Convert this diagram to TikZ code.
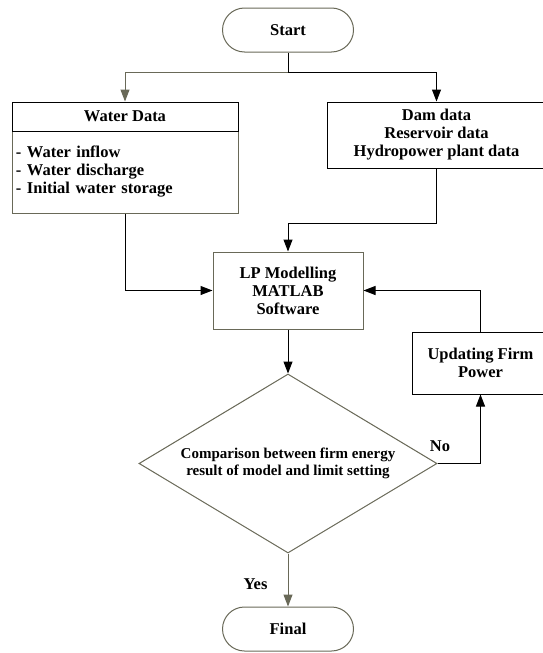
\documentclass[tikz,border=0pt]{standalone}
\usepackage{fontspec}
\setmainfont{Liberation Serif}
\usetikzlibrary{shapes.geometric,arrows.meta}
\definecolor{og}{RGB}{105,105,88}
\begin{document}
\begin{tikzpicture}[x=1pt,y=-1pt,
  every node/.style={font=\bfseries\fontsize{16.5}{18}\selectfont, align=center, line width=1pt},
  termbox/.style={draw=og, rounded corners=22pt, minimum width=131pt, minimum height=44pt, inner sep=0pt},
  blk/.style={draw=black, inner sep=0pt},
  gry/.style={draw=og, inner sep=0pt},
  conn/.style={line width=1pt, -{Triangle[length=12pt,width=9pt]}},
]
\useasboundingbox (0,0) rectangle (543,653);
\fill[white] (0,0) rectangle (543,653);

% nodes
\node[termbox] (start) at (288,30) {Start};
\node[gry, minimum width=226pt, minimum height=82pt, text width=218pt, align=left, inner xsep=4pt] (wb) at (125,172) {- Water inflow\\- Water discharge\\- Initial water storage};
\node[blk, minimum width=226pt, minimum height=29pt] (wh) at (125,116.5) {Water Data};
\node[blk, minimum width=219pt, minimum height=66pt] (dam) at (436.5,135) {Dam data\\Reservoir data\\Hydropower plant data};
\node[gry, minimum width=150pt, minimum height=77pt] (lp) at (288,290.5) {LP Modelling\\MATLAB\\Software};
\node[blk, minimum width=137pt, minimum height=62pt] (upd) at (480.5,363) {Updating Firm\\Power};
\node[diamond, draw=og, aspect=1.665, minimum width=298pt, minimum height=179pt, inner sep=0pt,
      font=\bfseries\fontsize{15}{16.5}\selectfont] (dia) at (288,463.5)
      {Comparison between firm energy\\result of model and limit setting};
\node[termbox] (final) at (288,629) {Final};
\node (no) at (440,446) {No};
\node (yes) at (255.5,584) {Yes};

% connectors
\coordinate (split) at (288,72.5);
\coordinate (dj) at (288,223);
\draw[line width=1pt] (start.south) -- (split);
\draw[conn, og] (split) -| (wh.north);
\draw[conn] (split) -| (dam.north);
\draw[conn] (wb.south) |- (lp.west);
\draw[conn] (dam.south) |- (dj) -- (lp.north);
\draw[conn] (lp.south) -- (dia.north);
\draw[conn] (dia.east) -| (upd.south);
\draw[conn] (upd.north) |- (lp.east);
\draw[conn, og] (dia.south) -- (final.north);
\end{tikzpicture}
\end{document}
